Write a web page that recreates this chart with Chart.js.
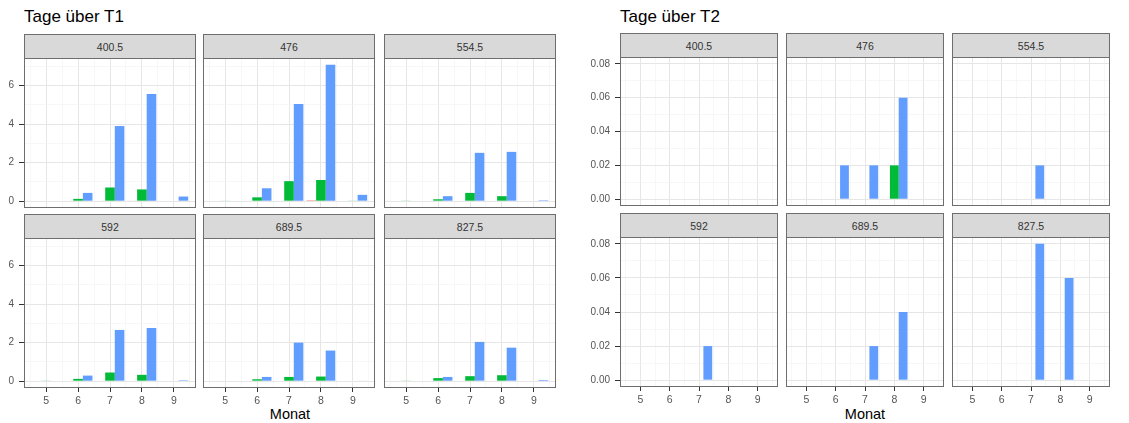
<!DOCTYPE html>
<html>
<head>
<meta charset="utf-8">
<script src="https://cdn.jsdelivr.net/npm/chart.js@4.4.1/dist/chart.umd.min.js"></script>
<style>
  body { margin: 0; background: #fff; width: 1129px; height: 423px; position: relative; overflow: hidden;
         font-family: "Liberation Sans", Arial, sans-serif; }
  .title { position: absolute; font-size: 17px; color: #000; white-space: nowrap; }
  .strip { position: absolute; box-sizing: border-box; background: #d9d9d9; border: 1px solid #6e6e6e;
           border-bottom: none; font-size: 10.5px; color: #333; display: flex; align-items: center;
           justify-content: center; }
  .xtitle { position: absolute; font-size: 14.5px; color: #000; transform: translateX(-50%); }
  canvas { position: absolute; }
</style>
</head>
<body>
<div class="title" style="left:24px;top:7px">Tage über T1</div>
<div class="title" style="left:620px;top:7px">Tage über T2</div>
<div class="xtitle" style="left:290px;top:406px">Monat</div>
<div class="xtitle" style="left:865px;top:406px">Monat</div>
<script>
const months = [5, 6, 7, 8, 9];
const facets = ['400.5', '476', '554.5', '592', '689.5', '827.5'];
const seriesNames = ['Serie 1', 'Serie 2', 'Serie 3'];
const seriesColors = ['#F8766D', '#00BA38', '#619CFF'];

// grid positions (major = months, minor = half months)
const xGrid = [4.5, 5, 5.5, 6, 6.5, 7, 7.5, 8, 8.5, 9, 9.5];
const t1Grid = [0, 1, 2, 3, 4, 5, 6, 7];
const t1Labels = [0, 2, 4, 6];
const t2Grid = [0, 0.01, 0.02, 0.03, 0.04, 0.05, 0.06, 0.07, 0.08];
const t2Labels = [0, 0.02, 0.04, 0.06, 0.08];

// Tage über T1, one row per facet, months 5..9
const t1Red = [
  [0, 0, 0, 0.03, 0],
  [0, 0, 0, 0.05, 0],
  [0, 0, 0, 0, 0],
  [0, 0, 0, 0, 0],
  [0, 0, 0, 0, 0],
  [0, 0, 0, 0, 0]
];
const t1Green = [
  [0, 0.12, 0.71, 0.61, 0],
  [0.03, 0.2, 1.04, 1.1, 0.02],
  [0.02, 0.1, 0.43, 0.26, 0],
  [0.02, 0.12, 0.45, 0.33, 0],
  [0, 0.1, 0.22, 0.24, 0],
  [0.02, 0.16, 0.26, 0.31, 0]
];
const t1Blue = [
  [0, 0.43, 3.9, 5.56, 0.24],
  [0, 0.67, 5.04, 7.08, 0.33],
  [0, 0.26, 2.51, 2.56, 0.05],
  [0, 0.29, 2.66, 2.76, 0.05],
  [0, 0.22, 2.0, 1.59, 0.03],
  [0, 0.22, 2.04, 1.74, 0.06]
];

// Tage über T2
const t2Red = [
  [0, 0, 0, 0, 0],
  [0, 0, 0, 0, 0],
  [0, 0, 0, 0, 0],
  [0, 0, 0, 0, 0],
  [0, 0, 0, 0, 0],
  [0, 0, 0, 0, 0]
];
const t2Green = [
  [0, 0, 0, 0, 0],
  [0, 0, 0, 0.02, 0],
  [0, 0, 0, 0, 0],
  [0, 0, 0, 0, 0],
  [0, 0, 0, 0, 0],
  [0, 0, 0, 0, 0]
];
const t2Blue = [
  [0, 0, 0, 0, 0],
  [0, 0.02, 0.02, 0.06, 0],
  [0, 0, 0.02, 0, 0],
  [0, 0, 0.02, 0, 0],
  [0, 0, 0.02, 0.04, 0],
  [0, 0, 0.08, 0.06, 0]
];

Chart.defaults.font.family = '"Liberation Sans", Arial, sans-serif';

const panelBorder = {
  id: 'panelBorder',
  afterDraw(chart) {
    const { ctx, chartArea: a } = chart;
    ctx.save();
    ctx.strokeStyle = '#6e6e6e';
    ctx.lineWidth = 1;
    ctx.strokeRect(Math.round(a.left) + 0.5, Math.round(a.top) + 0.5,
      Math.round(a.right - a.left) - 1, Math.round(a.bottom - a.top) - 1);
    ctx.restore();
  }
};

const near = (list, v) => list.some(t => Math.abs(t - v) < 1e-9);

const groups = [
  { series: [t1Red, t1Green, t1Blue], cols: [24, 203, 384], width: 172,
    rows: [{ top: 58, h: 150 }, { top: 238, h: 150 }], gutter: 24,
    yGrid: t1Grid, yLabels: t1Labels, fmt: v => String(v) },
  { series: [t2Red, t2Green, t2Blue], cols: [620, 786, 952], width: 158,
    rows: [{ top: 57, h: 149 }, { top: 237, h: 150 }], gutter: 45,
    yGrid: t2Grid, yLabels: t2Labels, fmt: v => v.toFixed(2) }
];

const xMin = months[0] - 0.45 - 0.05 * (months[4] - months[0] + 0.9);
const xMax = months[4] + 0.45 + 0.05 * (months[4] - months[0] + 0.9);

groups.forEach(g => {
  const all = g.series.flat(2);
  const top = Math.max(...all);
  const yMin = -0.05 * top, yMax = top * 1.05;

  facets.forEach((name, idx) => {
    const c = idx % 3, r = Math.floor(idx / 3);
    const left = g.cols[c], pTop = g.rows[r].top, w = g.width, h = g.rows[r].h;
    const gy = c === 0 ? g.gutter : 0;
    const gx = r === 1 ? 22 : 0;
    const padTop = 20, padBottom = r === 1 ? 0 : 20;

    const strip = document.createElement('div');
    strip.className = 'strip';
    strip.textContent = name;
    strip.style.left = left + 'px';
    strip.style.top = (pTop - 24) + 'px';
    strip.style.width = w + 'px';
    strip.style.height = '24px';
    document.body.appendChild(strip);

    const cv = document.createElement('canvas');
    cv.width = w + gy;
    cv.height = h + padTop + padBottom + gx;
    cv.style.left = (left - gy) + 'px';
    cv.style.top = (pTop - padTop) + 'px';
    document.body.appendChild(cv);

    const barW = 0.3 * w / (xMax - xMin);

    new Chart(cv.getContext('2d'), {
      type: 'bar',
      data: {
        datasets: g.series.map((s, k) => ({
          label: seriesNames[k],
          data: months.map((m, i) => ({ x: m, y: s[idx][i] })),
          backgroundColor: seriesColors[k],
          borderWidth: 0,
          inflateAmount: 0,
          barThickness: barW
        }))
      },
      options: {
        responsive: false,
        animation: false,
        layout: { padding: { top: padTop, bottom: padBottom, left: 0, right: 0 } },
        plugins: { legend: { display: false }, tooltip: { enabled: false } },
        scales: {
          x: {
            type: 'linear', min: xMin, max: xMax, offset: false,
            afterBuildTicks: s => { s.ticks = xGrid.map(v => ({ value: v })); },
            afterFit: s => { s.height = gx; },
            ticks: {
              display: r === 1, padding: 3, color: '#555', font: { size: 10.5 },
              autoSkip: false, maxRotation: 0,
              callback: v => near(months, v) ? String(v) : ''
            },
            grid: {
              offset: false, drawTicks: r === 1, tickLength: 4,
              color: ctx => near(months, ctx.tick.value) ? '#e6e6e6' : '#f2f2f2',
              lineWidth: ctx => near(months, ctx.tick.value) ? 1 : 0.6,
              tickColor: ctx => near(months, ctx.tick.value) ? '#333' : 'rgba(0,0,0,0)'
            },
            border: { display: false }
          },
          y: {
            min: yMin, max: yMax,
            afterBuildTicks: s => { s.ticks = g.yGrid.map(v => ({ value: v })); },
            afterFit: s => { s.width = gy; },
            ticks: {
              display: c === 0, padding: 5, color: '#555', font: { size: 10 },
              autoSkip: false,
              callback: v => near(g.yLabels, v) ? g.fmt(v) : ''
            },
            grid: {
              drawTicks: c === 0, tickLength: 5,
              color: ctx => near(g.yLabels, ctx.tick.value) ? '#e6e6e6' : '#f2f2f2',
              lineWidth: ctx => near(g.yLabels, ctx.tick.value) ? 1 : 0.6,
              tickColor: ctx => near(g.yLabels, ctx.tick.value) ? '#333' : 'rgba(0,0,0,0)'
            },
            border: { display: false }
          }
        }
      },
      plugins: [panelBorder]
    });
  });
});
</script>
</body>
</html>
